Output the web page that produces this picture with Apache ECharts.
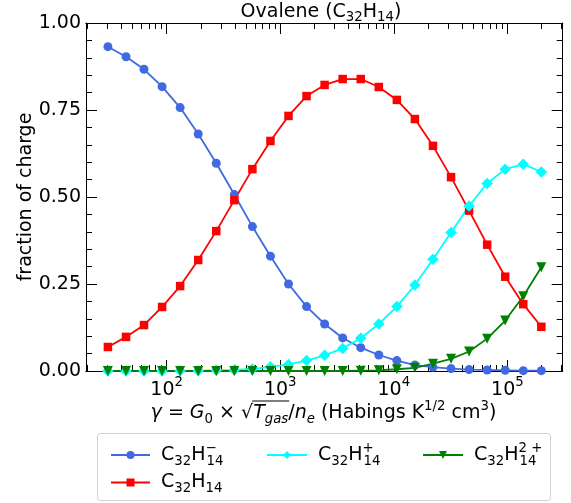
<!DOCTYPE html>
<html><head><meta charset="utf-8">
<script src="https://cdn.jsdelivr.net/npm/echarts@6/dist/echarts.min.js"></script>
<style>html,body{margin:0;padding:0;background:#fff}#c{width:571px;height:503px}</style>
</head><body><div id="c"></div>
<script>
// ---- data ----
const gammaValues = [30.4, 43.9, 63.2, 91.2, 131.5, 189.7, 273.5, 394.5, 568.9, 820.4, 1183, 1706, 2460, 3548, 5117, 7379, 10641, 15346, 22131, 31915, 46026, 66374, 95719, 138038, 199067];
const anion    = [0.932,0.903,0.867,0.817,0.757,0.681,0.597,0.507,0.415,0.330,0.250,0.185,0.135,0.095,0.067,0.046,0.030,0.017,0.011,0.007,0.004,0.003,0.002,0.001,0.001];
const neutral  = [0.069,0.098,0.132,0.184,0.244,0.319,0.402,0.491,0.580,0.661,0.733,0.790,0.822,0.839,0.839,0.816,0.779,0.724,0.647,0.557,0.461,0.363,0.271,0.192,0.127];
const cation   = [0,0,0,0,0.0005,0.001,0.002,0.003,0.006,0.012,0.019,0.030,0.045,0.065,0.094,0.135,0.185,0.247,0.321,0.398,0.474,0.539,0.580,0.594,0.572];
const dication = [0,0,0,0,0,0,0,0,0,0,0,0,0,0,0.001,0.002,0.005,0.009,0.021,0.035,0.056,0.093,0.145,0.215,0.298];
const seriesNames = ['anion','neutral','cation','dication'];
const yTicks = [0, 0.25, 0.5, 0.75, 1.0];
const xMajorTicks = [100, 1000, 10000, 100000];
const xMinorTicks = [20,30,40,50,60,70,80,90,200,300,400,500,600,700,800,900,2000,3000,4000,5000,6000,7000,8000,9000,20000,30000,40000,50000,60000,70000,80000,90000,200000,300000];

const FONT = 'DejaVu Sans';
const FS = 19, SFS = 13.3;

const legendRich = {
  c: {fontFamily: FONT, fontSize: FS, lineHeight: 26, verticalAlign: 'middle', color: '#000'},
  c0: {fontFamily: FONT, fontSize: FS, lineHeight: 26, verticalAlign: 'middle', color: '#000', padding: [0,0,0,6]},
  sb: {fontFamily: FONT, fontSize: SFS, lineHeight: 13, verticalAlign: 'bottom', color: '#000'},
  sp: {fontFamily: FONT, fontSize: SFS, lineHeight: 13, verticalAlign: 'top', color: '#000', width: 1, align: 'left'}
};
const legendLabels = {
  anion: '{c0|C}{sb|32}{c|H}{sp|\u2212}{sb|14}',
  neutral: '{c0|C}{sb|32}{c|H}{sb|14}',
  cation: '{c0|C}{sb|32}{c|H}{sp|+}{sb|14}',
  dication: '{c0|C}{sb|32}{c|H}{sp|2 +}{sb|14}'
};

const colors = {anion: '#4169e1', neutral: '#ff0000', cation: '#00ffff', dication: '#008000'};
const symbols = {anion: 'circle', neutral: 'rect', cation: 'diamond', dication: 'triangle'};
const symSize = {anion: 9, neutral: 8.5, cation: 11.5, dication: 10};
const valuesBy = {anion, neutral, cation, dication};

const X_MIN = 19.5, X_MAX = 307000;

function xAxisBase(pos, tickVals, len, labels) {
  return {
    type: 'log', logBase: 10, min: X_MIN, max: X_MAX, position: pos,
    axisLine: {show: true, onZero: false, lineStyle: {color: '#000', width: 1}},
    axisTick: {show: true, inside: true, length: len, customValues: tickVals, lineStyle: {color: '#000', width: 1}},
    axisLabel: labels ? {
      show: true, customValues: xMajorTicks, margin: 5,
      formatter: v => '{b|10}{e|' + Math.round(Math.log10(v)) + '}',
      rich: {
        b: {fontFamily: FONT, fontSize: FS, color: '#000', lineHeight: 24, verticalAlign: 'bottom'},
        e: {fontFamily: FONT, fontSize: SFS, color: '#000', lineHeight: 24, verticalAlign: 'top'}
      }
    } : {show: false},
    splitLine: {show: false}, minorTick: {show: false}
  };
}
function yAxisBase(pos, labels) {
  return {
    type: 'value', min: 0, max: 1, interval: 0.25, position: pos,
    name: labels ? 'fraction of charge' : '', nameLocation: 'middle', nameGap: 50, nameRotate: 90,
    nameMoveOverlap: false,
    nameTextStyle: {fontFamily: FONT, fontSize: FS, color: '#000'},
    axisLine: {show: true, lineStyle: {color: '#000', width: 1}},
    axisTick: {show: true, inside: true, length: 11, lineStyle: {color: '#000', width: 1}},
    minorTick: {show: true, splitNumber: 5, length: 6, lineStyle: {color: '#000', width: 1}},
    axisLabel: labels ? {show: true, margin: 5, fontFamily: FONT, fontSize: FS, color: '#000', formatter: v => v.toFixed(2)} : {show: false},
    splitLine: {show: false}
  };
}

// x-axis title built from rich tokens
const xNameParts = [
  ['i','\u03b3'],['r',' = '],['i','G'],['sb','0'],['r',' \u00d7 '],['r','\u221a'],['i','T'],['isb','gas'],['r','/'],['i','n'],['isb','e'],['r',' (Habings K'],['sp','1/2'],['r',' cm'],['sp','3'],['r',')']
];
const xRich = {
  r: {fontFamily: FONT, fontSize: FS, color: '#000', lineHeight: 26, verticalAlign: 'middle'},
  i: {fontFamily: FONT, fontSize: FS, fontStyle: 'italic', color: '#000', lineHeight: 26, verticalAlign: 'middle'},
  sb: {fontFamily: FONT, fontSize: SFS, color: '#000', lineHeight: 13, verticalAlign: 'bottom'},
  isb: {fontFamily: FONT, fontSize: SFS, fontStyle: 'italic', color: '#000', lineHeight: 13, verticalAlign: 'bottom'},
  sp: {fontFamily: FONT, fontSize: SFS, color: '#000', lineHeight: 13, verticalAlign: 'top'}
};
const X_NAME_CX = 323.5, X_NAME_CY = 413.5;
const cv = document.createElement('canvas').getContext('2d');
function tokW(style, txt) {
  const s = xRich[style];
  cv.font = (s.fontStyle === 'italic' ? 'italic ' : '') + s.fontSize + 'px "' + FONT + '"';
  return cv.measureText(txt).width;
}
const widths = xNameParts.map(p => tokW(p[0], p[1]));
const totalW = widths.reduce((a, b) => a + b, 0);
let acc = X_NAME_CX - totalW / 2, olStart = 0, olEnd = 0;
xNameParts.forEach((p, k) => {
  if (p[1] === '\u221a') olStart = acc + widths[k] - 1;
  if (p[1] === 'gas') olEnd = acc + widths[k] + 1;
  acc += widths[k];
});

const chart = echarts.init(document.getElementById('c'), null, {renderer: 'canvas'});
const option = {
  backgroundColor: '#fff',
  animation: false,
  title: {
    text: 'Ovalene (C{s|32}H{s|14})', left: 321, top: 0, padding: 0, textAlign: 'center',
    textStyle: {fontFamily: FONT, fontSize: FS, fontWeight: 'normal', color: '#000', lineHeight: 24,
      rich: {s: {fontFamily: FONT, fontSize: SFS, color: '#000', lineHeight: 13, verticalAlign: 'bottom'}}}
  },
  grid: {left: 86, top: 23, right: 8.3, bottom: 132, containLabel: false},
  xAxis: [
    xAxisBase('bottom', xMajorTicks, 11, true),
    xAxisBase('bottom', xMinorTicks, 6, false),
    xAxisBase('top', xMajorTicks, 11, false),
    xAxisBase('top', xMinorTicks, 6, false)
  ],
  yAxis: [yAxisBase('left', true), yAxisBase('right', false)],
  legend: [
    {data: ['anion', 'neutral'], orient: 'vertical', left: 105, top: 437, itemWidth: 39, itemHeight: 10, itemGap: 5,
     formatter: n => legendLabels[n], textStyle: {rich: legendRich}},
    {data: ['cation'], orient: 'vertical', left: 261, top: 437, itemWidth: 40, itemHeight: 10,
     formatter: n => legendLabels[n], textStyle: {rich: legendRich}},
    {data: ['dication'], orient: 'vertical', left: 417, top: 437, itemWidth: 40, itemHeight: 10,
     formatter: n => legendLabels[n], textStyle: {rich: legendRich}}
  ],
  graphic: [
    {type: 'rect', shape: {x: 97.5, y: 433.5, width: 453, height: 67, r: 3}, style: {fill: 'none', stroke: '#d0d0d0', lineWidth: 1}, silent: true},
    {type: 'text', x: X_NAME_CX, y: X_NAME_CY,
     style: {text: xNameParts.map(p => '{' + p[0] + '|' + p[1] + '}').join(''), rich: xRich, align: 'center', verticalAlign: 'middle'}},
    {type: 'line', shape: {x1: olStart, y1: X_NAME_CY - 12.5, x2: olEnd, y2: X_NAME_CY - 12.5}, style: {stroke: '#000', lineWidth: 1}}
  ],
  series: seriesNames.map(n => ({
    name: n, type: 'line', xAxisIndex: 0, yAxisIndex: 0,
    data: gammaValues.map((g, k) => [g, valuesBy[n][k]]),
    symbol: symbols[n], symbolSize: symSize[n], symbolRotate: n === 'dication' ? 180 : 0,
    showAllSymbol: true,
    lineStyle: {color: colors[n], width: 1.8},
    itemStyle: {color: colors[n], borderWidth: 0},
    emphasis: {disabled: true}, clip: false
  }))
};
chart.setOption(option);
</script></body></html>
